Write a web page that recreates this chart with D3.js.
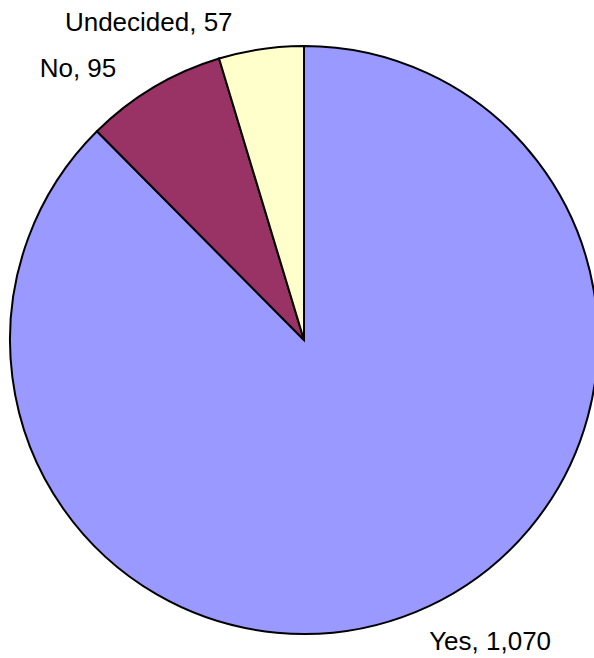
<!DOCTYPE html>
<html>
<head>
<meta charset="utf-8">
<script src="https://cdn.jsdelivr.net/npm/d3@7"></script>
<style>
  html, body { margin: 0; padding: 0; background: #fff; }
  svg { display: block; }
</style>
</head>
<body>
<svg id="chart" width="594" height="658"></svg>
<script>
const categories = ["Yes", "No", "Undecided"];
const values = [1070, 95, 57];
const labels = ["Yes, 1,070", "No, 95", "Undecided, 57"];
const colors = ["#9999FF", "#993366", "#FFFFCC"];

const svg = d3.select("#chart");
const cx = 304, cy = 340, R = 294;
const g = svg.append("g").attr("transform", `translate(${cx},${cy})`);

const pie = d3.pie().sort(null).value(d => d.value);
const data = categories.map((c, i) => ({ name: c, value: values[i], label: labels[i], color: colors[i] }));
const arcs = pie(data);
const arc = d3.arc().innerRadius(0).outerRadius(R);

g.selectAll("path.slice")
  .data(arcs)
  .enter().append("path")
  .attr("class", "slice")
  .attr("d", arc)
  .attr("fill", d => d.data.color)
  .attr("stroke", "#000")
  .attr("stroke-width", 2)
  .attr("stroke-linejoin", "miter");

const labelR = R + 24;
g.selectAll("text.lbl")
  .data(arcs)
  .enter().append("text")
  .attr("class", "lbl")
  .each(function(d) {
    const a = (d.startAngle + d.endAngle) / 2;
    const s = Math.sin(a);
    const x = labelR * s;
    const y = -labelR * Math.cos(a);
    const right = s >= 0;
    d3.select(this)
      .attr("x", right ? x + 4 : x - 25)
      .attr("y", right ? y + 16 : y + 3.5 + 12.6 * Math.abs(s))
      .attr("text-anchor", right ? "start" : "end");
  })
  .attr("font-family", "Arial, 'Liberation Sans', sans-serif")
  .attr("font-size", 26)
  .attr("fill", "#000")
  .text(d => d.data.label);
</script>
</body>
</html>
